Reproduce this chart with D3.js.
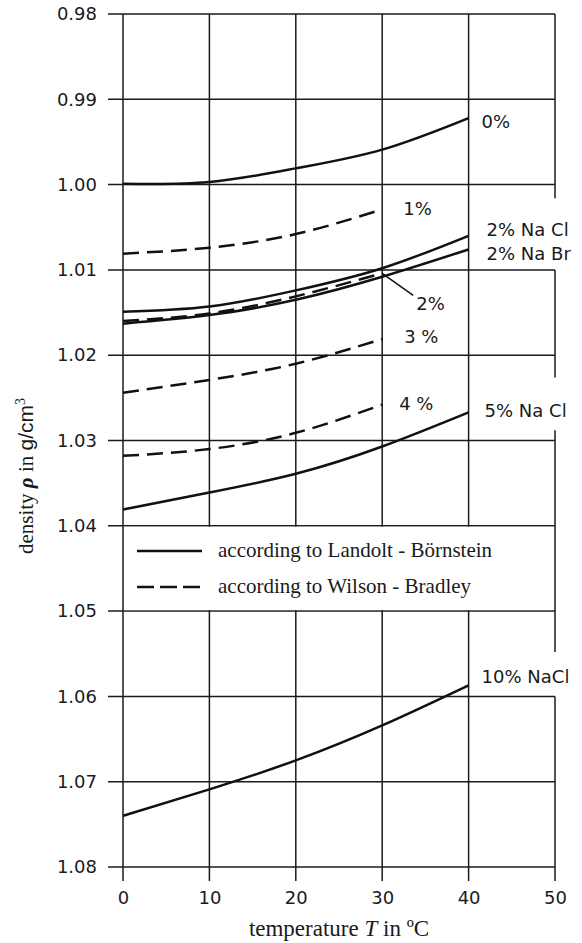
<!DOCTYPE html>
<html>
<head>
<meta charset="UTF-8">
<style>
    body { margin: 0; background: #fff; }
    .tick text { font-family: "DejaVu Sans", sans-serif; font-size: 18px; fill: #1a1a1a; }
    .lbl { font-family: "DejaVu Sans", sans-serif; font-size: 18px; fill: #1a1a1a; }
    .serif { font-family: "Liberation Serif", "Times New Roman", serif; font-size: 21px; fill: #1a1a1a; }
    .grid line { stroke: #1a1a1a; stroke-width: 1.5px; }
    .curve { fill: none; stroke: #111; stroke-width: 2.5px; }
</style>
</head>
<body>
<svg width="582" height="943"></svg>
<script src="https://d3js.org/d3.v7.min.js"></script>
<script>

// data
const temps = [0, 10, 20, 30, 40];
const yTicks = [0.98, 0.99, 1.00, 1.01, 1.02, 1.03, 1.04, 1.05, 1.06, 1.07, 1.08];
const xTicks = [0, 10, 20, 30, 40, 50];

const water0 = [0.9999, 0.9997, 0.9981, 0.9959, 0.9922];      // Landolt-Börnstein
const nacl2  = [1.0149, 1.0143, 1.0124, 1.0098, 1.0060];
const nabr2  = [1.0163, 1.0153, 1.0135, 1.0108, 1.0076];
const nacl5  = [1.0381, 1.0361, 1.0339, 1.0307, 1.0267];
const nacl10 = [1.0740, 1.0709, 1.0675, 1.0634, 1.0587];
const wb1 = [1.0081, 1.0074, 1.0058, 1.0029];                  // Wilson-Bradley
const wb2 = [1.0160, 1.0151, 1.0131, 1.0104];
const wb3 = [1.0244, 1.0229, 1.0210, 1.0181];
const wb4 = [1.0318, 1.0310, 1.0291, 1.0258];

const series = [
    { name: "0%", values: water0, dashed: false },
    { name: "1%", values: wb1, dashed: true },
    { name: "2% Na Cl", values: nacl2, dashed: false },
    { name: "2% Na Br", values: nabr2, dashed: false },
    { name: "2%", values: wb2, dashed: true },
    { name: "3 %", values: wb3, dashed: true },
    { name: "4 %", values: wb4, dashed: true },
    { name: "5% Na Cl", values: nacl5, dashed: false },
    { name: "10% NaCl", values: nacl10, dashed: false }
];

const legendItems = ["according to Landolt - Börnstein", "according to Wilson - Bradley"];

// label offsets from the end of each curve (layout only)
const labelOffset = {
    "0%": [13, 10], "1%": [21, 6], "2% Na Cl": [18, 0], "2% Na Br": [18, 11],
    "2%": [34, 37], "3 %": [22, 4], "4 %": [17, 5], "5% Na Cl": [16, 5], "10% NaCl": [13, -2]
};

// the right edge is broken where labels sit
const rightEdge = [[0.98, 1.0016], [1.01, 1.0226], [1.0288, 1.0548], [1.06, 1.08]];

let svg = d3.select("svg");

let x = d3.scaleLinear().domain([0, 50]).range([123, 555]);
let y = d3.scaleLinear().domain([0.98, 1.08]).range([14, 867]);

let grid = svg.append("g").attr("class", "grid");

// horizontal lines (extend left as ticks)
grid.selectAll(".h").data(yTicks).enter().append("line")
    .attr("x1", x(0) - 15).attr("x2", x(50))
    .attr("y1", d => y(d)).attr("y2", d => y(d));

// vertical lines 0..40 (extend down as ticks)
grid.selectAll(".v").data(xTicks.slice(0, 5)).enter().append("line")
    .attr("x1", d => x(d)).attr("x2", d => x(d))
    .attr("y1", y(0.98)).attr("y2", y(1.08) + 14);

grid.selectAll(".r").data(rightEdge).enter().append("line")
    .attr("x1", x(50)).attr("x2", x(50))
    .attr("y1", d => y(d[0])).attr("y2", d => y(d[1]));
grid.append("line")
    .attr("x1", x(50)).attr("x2", x(50))
    .attr("y1", y(1.08)).attr("y2", y(1.08) + 14);

// axis labels
let yAxis = d3.axisLeft(y).tickValues(yTicks).tickSize(0).tickPadding(26)
    .tickFormat(d3.format(".2f"));
svg.append("g").attr("transform", "translate(" + x(0) + ",0)").call(yAxis)
    .call(g => g.select(".domain").remove());

let xAxis = d3.axisBottom(x).tickValues(xTicks).tickSize(0).tickPadding(24);
svg.append("g").attr("transform", "translate(0," + y(1.08) + ")").call(xAxis)
    .call(g => g.select(".domain").remove());

// legend box covering the 1.04 - 1.05 row
svg.append("rect")
    .attr("x", x(0) + 1).attr("y", y(1.04) + 1)
    .attr("width", x(50) - x(0) - 2).attr("height", y(1.05) - y(1.04) - 2)
    .attr("fill", "#fff");

let legend = svg.append("g");
legend.selectAll("line").data(legendItems).enter().append("line")
    .attr("class", "curve")
    .attr("x1", 137).attr("x2", 202)
    .attr("y1", (d, i) => 551 + i * 36).attr("y2", (d, i) => 551 + i * 36)
    .attr("stroke-dasharray", (d, i) => i ? "17,6" : null);
legend.selectAll("text").data(legendItems).enter().append("text")
    .attr("class", "serif")
    .attr("x", 218).attr("y", (d, i) => 557 + i * 36)
    .text(d => d);

// curves
let line = d3.line()
    .x((d, i) => x(temps[i]))
    .y(d => y(d))
    .curve(d3.curveNatural);

svg.append("g").selectAll("path").data(series).enter().append("path")
    .attr("class", "curve")
    .attr("d", d => line(d.values))
    .attr("stroke-dasharray", d => d.dashed ? "16,8" : null)
    .attr("stroke-width", d => d.name === "2%" ? 2.2 : 2.5);

// curve labels
let labels = svg.append("g");
series.forEach(s => {
    let n = s.values.length - 1;
    let ex = x(temps[n]), ey = y(s.values[n]);
    let off = labelOffset[s.name];
    if (s.name === "2%") {
        labels.append("line")
            .attr("x1", ex).attr("y1", ey)
            .attr("x2", ex + 31).attr("y2", ey + 22)
            .attr("stroke", "#111").attr("stroke-width", 1.5);
    }
    labels.append("text").attr("class", "lbl")
        .attr("x", ex + off[0]).attr("y", ey + off[1])
        .text(s.name);
});

// axis titles
svg.append("text").attr("class", "serif")
    .attr("text-anchor", "middle")
    .attr("font-size", "23px")
    .style("font-size", "23px")
    .attr("x", 339).attr("y", 936)
    .call(t => {
        t.append("tspan").text("temperature ");
        t.append("tspan").attr("font-style", "italic").text("T");
        t.append("tspan").text(" in ºC");
    });

svg.append("text").attr("class", "serif")
    .attr("text-anchor", "middle")
    .attr("transform", "translate(33,476) rotate(-90)")
    .call(t => {
        t.append("tspan").text("density ");
        t.append("tspan").attr("font-style", "italic").attr("font-weight", "bold").text("ρ");
        t.append("tspan").text(" in ");
        t.append("tspan").attr("font-family", "Liberation Sans, Arial, sans-serif").text("g/cm");
        t.append("tspan").attr("font-size", "14px").attr("dy", -8).text("3");
    });

</script>
</body>
</html>
